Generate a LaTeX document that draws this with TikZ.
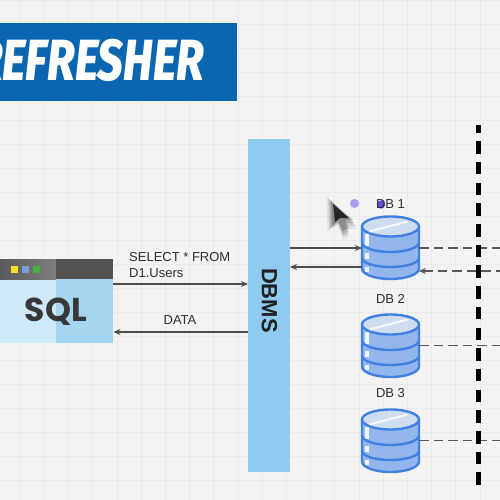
\documentclass[tikz,border=0pt]{standalone}
\usepackage{fontspec}
\setmainfont{Liberation Sans}
\newfontfamily\titlefont{Fira Sans ExtraBold}
\newfontfamily\sqlfont{Poppins}
\usetikzlibrary{arrows.meta,calc}
\definecolor{bg}{HTML}{F3F3F3}
\definecolor{gridc}{HTML}{EAEAEA}
\definecolor{banner}{HTML}{0B66B2}
\definecolor{dbmsc}{HTML}{8FCBEE}
\definecolor{txt}{HTML}{2E2E2E}
\definecolor{dbline}{HTML}{3F80E2}
\definecolor{dbfill}{HTML}{93B7EC}
\definecolor{dbtop}{HTML}{CFDCF0}
\definecolor{dotlight}{HTML}{A99CF0}
\definecolor{dotdark}{HTML}{4B35D8}
\tikzset{
  conn/.style={draw=txt!85,line width=1.2pt,-{Stealth[length=7pt,width=6pt]}},
  dashconn/.style={draw=txt!80,line width=1.2pt,dash pattern=on 9.5pt off 5pt},
  dashin/.style={dashconn,{Stealth[length=7pt,width=6pt]}-},
  dbbox/.style={minimum width=57pt,minimum height=63pt,inner sep=0pt,outer sep=0pt},
  lbl/.style={text=txt,font=\fontsize{13}{15}\selectfont,inner sep=0pt},
  dbline/.style={draw=dbline,line width=2.4pt},
}
\newcommand{\dbicon}[1]{%
  \begin{scope}[shift={(#1.center)}]
    \fill[dbfill] (-28.5,-21) -- (-28.5,21) arc[x radius=28.5,y radius=10.5,start angle=180,end angle=0] -- (28.5,-21) -- cycle;
    \fill[white!85!dbfill] (-25.5,-14) rectangle (-22,-2);
    \fill[white!85!dbfill] (-25.5,5) rectangle (-22,11);
    \fill[white!85!dbfill] (-25.5,19) rectangle (-22,24);
    \draw[dbline] (-28.5,-5) arc[x radius=28.5,y radius=9.5,start angle=180,end angle=0];
    \draw[dbline] (-28.5,10.5) arc[x radius=28.5,y radius=9,start angle=180,end angle=0];
    \draw[dbline] (-28.5,-21) -- (-28.5,21) arc[x radius=28.5,y radius=10.5,start angle=180,end angle=0] -- (28.5,-21);
    \draw[dbline,fill=dbtop] (0,-21) ellipse[x radius=28.5,y radius=10];
    \draw[white!80!dbtop,line width=2pt] (-21,-16) -- (17,-26);
  \end{scope}}
\begin{document}
\begin{tikzpicture}[x=1pt,y=-1pt]
\clip (0,0) rectangle (500,500);
\fill[bg] (0,0) rectangle (500,500);
\foreach \gx in {20,44.2,68.4,92.6,116.8,141,165.2,189.4,213.6,237.8,262,286.2,310.4,334.6,358.8,383,407.2,431.4,455.6,479.8}
  \draw[gridc,line width=.6pt] (\gx,0) -- (\gx,500);
\foreach \gy in {0,24,48,72,96,120,144,168,192,216,240,264,288,312,336,360,384,408,432,456,480}
  \draw[gridc,line width=.6pt] (0,\gy) -- (500,\gy);

% title banner
\node[fill=banner,minimum width=240pt,minimum height=78pt,inner sep=0pt,anchor=north west] (banner) at (-3,23) {};
\node[text=white,inner sep=0pt,anchor=base east,font=\titlefont\itshape\fontsize{58}{58}\selectfont,xscale=.78] (title) at (204,81) {REFRESHER};

% SQL window
\fill[dbmsc!45!white] (0,279) rectangle (56,343);
\fill[dbmsc!80!white] (56,279) rectangle (113,343);
\shade[left color=black!65,right color=black!50] (0,259) rectangle (56,279);
\fill[black!68] (56,259) rectangle (113,279);
\fill[yellow!80!orange!90!white] (11,265.5) rectangle (18,272.5);
\fill[cyan!50!blue!55!white] (22,265.5) rectangle (29,272.5);
\fill[green!60!black!75] (33,265.5) rectangle (40,272.5);
\node[minimum width=113pt,minimum height=84pt,inner sep=0pt,anchor=north west] (sql) at (0,259) {};
\node[text=black!78,inner sep=0pt,font=\sqlfont\bfseries\fontsize{33}{33}\selectfont] (sqltext) at (56,312) {SQL};

% DBMS
\node[fill=dbmsc,minimum width=42pt,minimum height=333pt,inner sep=0pt,outer sep=0pt] (dbms) at (269,305.5) {};
\node[rotate=-90,text=black!88,inner sep=0pt,font=\bfseries\fontsize{22}{22}\selectfont] (dbmstext) at (269.5,300.5) {DBMS};

% levels
\coordinate (ya) at (0,284);
\coordinate (yb) at (0,332);
\coordinate (yc) at (0,248);
\coordinate (yd) at (0,267);
\coordinate (ye) at (500,248);
\coordinate (yf) at (500,271);
\coordinate (yg) at (500,345.5);
\coordinate (yh) at (500,440.5);
\coordinate (vtop) at (478.3,125);
\coordinate (vbot) at (478.3,486);

% databases
\node[dbbox] (db1) at (390.5,247.5) {};
\node[dbbox] (db2) at (390.5,345.5) {};
\node[dbbox] (db3) at (390.5,440.5) {};
\dbicon{db1}\dbicon{db2}\dbicon{db3}

% connectors
\draw[conn] (sql.east |- ya) -- (dbms.west |- ya);
\draw[conn] (dbms.west |- yb) -- (sql.east |- yb);
\draw[conn] (dbms.east |- yc) -- (db1.west |- yc);
\draw[conn] (db1.west |- yd) -- (dbms.east |- yd);
\draw[dashconn] (db1.east |- ye) -- (ye);
\draw[dashin] (db1.east |- yf) -- (yf);
\draw[dashconn] (db2.east |- yg) -- (yg);
\draw[dashconn] (db3.east |- yh) -- (yh);
\draw[black,line width=4.5pt,dash pattern=on 12.5pt off 8.2pt,dash phase=4.5pt] (vtop) -- (vbot);

% labels
\node[lbl,anchor=base west] (l1) at (129,261) {SELECT * FROM};
\node[lbl,anchor=base west] (l2) at (129,277) {D1.Users};
\node[lbl] (l3) at (180,320.5) {DATA};
\fill[dotdark,opacity=.85] (381,204.5) circle (4.2pt);
\node[lbl] (l4) at (390.5,204.5) {DB 1};
\node[lbl] (l5) at (390.5,298.5) {DB 2};
\node[lbl] (l6) at (390.5,393.5) {DB 3};

% pointer
\fill[dotlight] (354.5,203.5) circle (4.5pt);
\foreach \r/\o in {0/.2,1.5/.14,3/.1,4.5/.06}
  \fill[black,opacity=\o] (331,201) ++(-\r,-\r) -- ++(1,25+2*\r) -- ++(6+\r,-5) -- ++(5,10+\r) -- ++(6,-3) -- ++(-4,-8) -- ++(8+\r,0) -- cycle;
\fill[black!85] (333,204) -- (335,222) -- (340,218) -- (349,218) -- cycle;
\end{tikzpicture}
\end{document}
